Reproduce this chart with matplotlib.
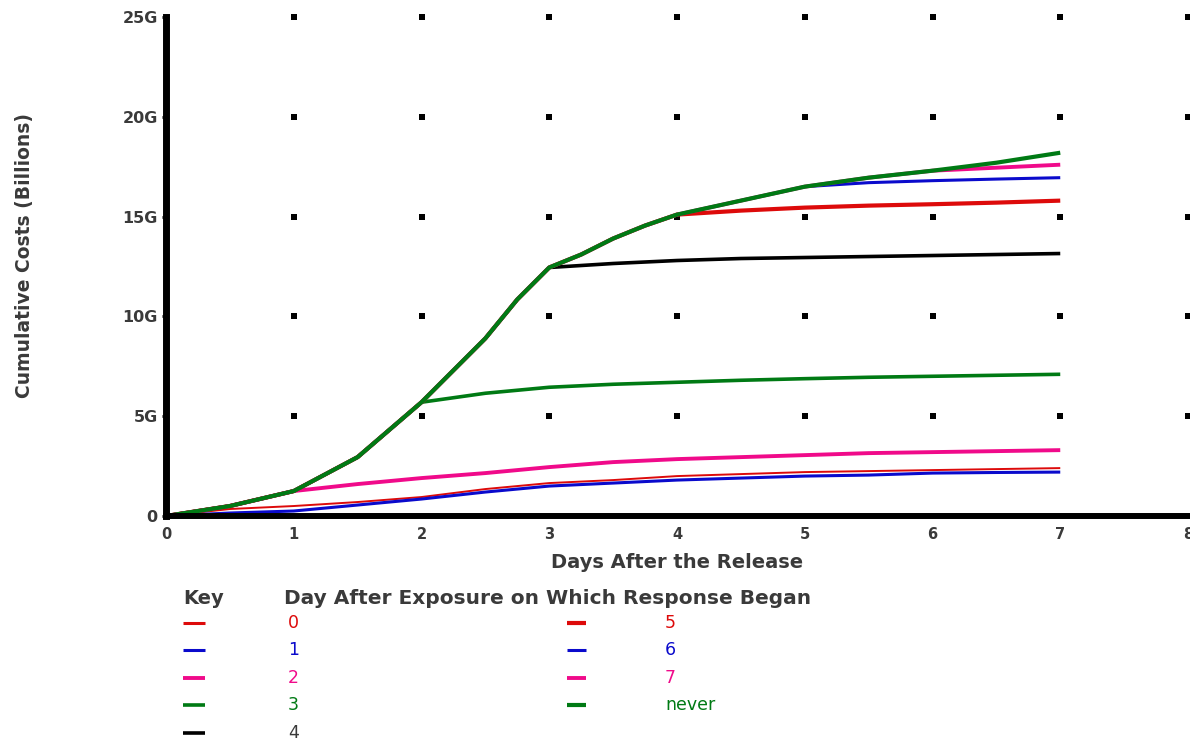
import matplotlib

matplotlib.use("Agg")

import matplotlib.pyplot as plt
from matplotlib.lines import Line2D

# main curve (response never started); the other series branch off it
main_days = [0, 0.5, 1, 1.5, 2, 2.25, 2.5, 2.75, 3, 3.25, 3.5, 3.75, 4, 4.5, 5, 5.5, 6, 6.5, 7]
main_costs = [0, 0.5, 1.25, 2.95, 5.7, 7.3, 8.9, 10.85, 12.45, 13.1, 13.9, 14.55, 15.1, 15.8, 16.5, 16.95, 17.3, 17.7, 18.2]

tail_days = {
    "0": [0, 0.5, 1, 1.5, 2, 2.5, 3, 3.5, 4, 4.5, 5, 5.5, 6, 6.5, 7],
    "1": [0, 0.5, 1, 1.5, 2, 2.5, 3, 3.5, 4, 4.5, 5, 5.5, 6, 6.5, 7],
    "2": [1, 1.5, 2, 2.5, 3, 3.5, 4, 4.5, 5, 5.5, 6, 6.5, 7],
    "3": [2, 2.5, 3, 3.5, 4, 4.5, 5, 5.5, 6, 6.5, 7],
    "4": [3, 3.5, 4, 4.5, 5, 5.5, 6, 6.5, 7],
    "5": [4, 4.5, 5, 5.5, 6, 6.5, 7],
    "6": [5, 5.5, 6, 6.5, 7],
    "7": [6, 6.5, 7],
}
tail_costs = {
    "0": [0, 0.35, 0.5, 0.7, 0.95, 1.35, 1.65, 1.8, 2.0, 2.1, 2.2, 2.25, 2.3, 2.35, 2.4],
    "1": [0, 0.15, 0.25, 0.55, 0.85, 1.2, 1.5, 1.65, 1.8, 1.9, 2.0, 2.05, 2.15, 2.18, 2.2],
    "2": [1.25, 1.6, 1.9, 2.15, 2.45, 2.7, 2.85, 2.95, 3.05, 3.15, 3.2, 3.25, 3.3],
    "3": [5.7, 6.15, 6.45, 6.6, 6.7, 6.8, 6.88, 6.95, 7.0, 7.05, 7.1],
    "4": [12.45, 12.65, 12.8, 12.9, 12.95, 13.0, 13.05, 13.1, 13.15],
    "5": [15.1, 15.3, 15.45, 15.55, 15.62, 15.7, 15.8],
    "6": [16.5, 16.7, 16.8, 16.88, 16.95],
    "7": [17.3, 17.45, 17.6],
}

series_labels = ["0", "1", "2", "3", "4", "5", "6", "7", "never"]
series_colors = ["#dd0a0a", "#0a0acc", "#f00a8a", "#007a14", "#000000",
                 "#dd0a0a", "#0a0acc", "#f00a8a", "#007a14"]
series_widths = [1.4, 2.2, 2.8, 2.6, 2.6, 3.0, 2.2, 2.8, 3.0]

y_ticks = [0, 5, 10, 15, 20, 25]
y_tick_labels = ["0", "5G", "10G", "15G", "20G", "25G"]
x_ticks = [0, 1, 2, 3, 4, 5, 6, 7, 8]

text_color = "#3a3a3a"
plt.rcParams["font.family"] = ["DejaVu Sans"]

fig = plt.figure(figsize=(11.9, 7.42), dpi=100)
ax = fig.add_axes([166 / 1190, 226 / 742, 1022 / 1190, 499 / 742])

# dotted grid: a small square at every tick crossing
for gx in x_ticks[1:]:
    for gy in y_ticks[1:]:
        ax.plot(gx, gy, marker="s", ms=4.4, color="black", mew=0, clip_on=False, zorder=1)

for i, label in enumerate(series_labels):
    if label == "never":
        xs, ys = main_days, main_costs
    else:
        start = tail_days[label][0]
        xs = [d for d in main_days if d < start] + tail_days[label]
        ys = [c for d, c in zip(main_days, main_costs) if d < start] + tail_costs[label]
    ax.plot(xs, ys, color=series_colors[i], lw=series_widths[i], solid_capstyle="butt", zorder=2 + i)

ax.set_xlim(0, 8)
ax.set_ylim(0, 25)
ax.set_xticks(x_ticks)
ax.set_xticklabels([str(t) for t in x_ticks])
ax.set_yticks(y_ticks)
ax.set_yticklabels(y_tick_labels)
ax.tick_params(axis="x", length=0, pad=8, labelsize=10.5, labelcolor=text_color)
ax.tick_params(axis="y", length=3, width=2, pad=3, labelsize=11.5, labelcolor=text_color)
for lab in ax.get_xticklabels() + ax.get_yticklabels():
    lab.set_fontweight("bold")

for side in ("top", "right"):
    ax.spines[side].set_visible(False)
ax.spines["left"].set_linewidth(5)
ax.spines["bottom"].set_linewidth(4.3)
ax.spines["bottom"].set_bounds(0, 8.05)
ax.spines["left"].set_zorder(20)
ax.spines["bottom"].set_zorder(20)

fig.text(677 / 1190, 1 - 562 / 742, "Days After the Release", ha="center", va="center",
         fontsize=14, fontweight="bold", color=text_color)
fig.text(25 / 1190, 1 - 256 / 742, "Cumulative Costs (Billions)", ha="center", va="center",
         rotation=90, fontsize=13.5, fontweight="bold", color=text_color)

# key under the chart
fig.text(183 / 1190, 1 - 598 / 742, "Key", ha="left", va="center",
         fontsize=14, fontweight="bold", color=text_color)
fig.text(284 / 1190, 1 - 598 / 742, "Day After Exposure on Which Response Began", ha="left",
         va="center", fontsize=14.5, fontweight="bold", color=text_color)
row_y = [623, 650, 678, 705, 733]
for i, label in enumerate(series_labels):
    col = 0 if i < 5 else 1
    y = 1 - row_y[i if col == 0 else i - 5] / 742
    x0, x1 = (183, 205) if col == 0 else (567, 586)
    fig.add_artist(Line2D([x0 / 1190, x1 / 1190], [y, y], color=series_colors[i],
                          lw=max(series_widths[i], 2.2), solid_capstyle="butt"))
    tx = 288 if col == 0 else 665
    fig.text(tx / 1190, y, label, ha="left", va="center", fontsize=12.5,
             color=series_colors[i] if label != "4" else text_color)

fig.savefig("out.png", dpi=100)
